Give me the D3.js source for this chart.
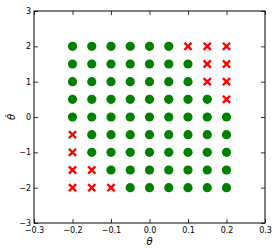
<!DOCTYPE html>
<html>
<head>
<meta charset="utf-8">
<script src="https://cdn.jsdelivr.net/npm/d3@7"></script>
<style>
  body { margin: 0; background: #fff; }
  svg { display: block; }
  text { font-family: "DejaVu Sans", sans-serif; }
</style>
</head>
<body>
<svg id="chart" width="277" height="248"></svg>
<script>
// grid of initial conditions (theta, theta dot) and whether each one was stabilised
const thetas = [-0.2, -0.15, -0.1, -0.05, 0.0, 0.05, 0.1, 0.15, 0.2];
const thetaDots = [2, 1.5, 1, 0.5, 0, -0.5, -1, -1.5, -2];
// 1 = success (green circle), 0 = failure (red cross); rows follow thetaDots
const outcome = [
  [1, 1, 1, 1, 1, 1, 0, 0, 0],
  [1, 1, 1, 1, 1, 1, 1, 0, 0],
  [1, 1, 1, 1, 1, 1, 1, 0, 0],
  [1, 1, 1, 1, 1, 1, 1, 1, 0],
  [1, 1, 1, 1, 1, 1, 1, 1, 1],
  [0, 1, 1, 1, 1, 1, 1, 1, 1],
  [0, 1, 1, 1, 1, 1, 1, 1, 1],
  [0, 0, 1, 1, 1, 1, 1, 1, 1],
  [0, 0, 0, 1, 1, 1, 1, 1, 1]
];
const xTicks = [-0.3, -0.2, -0.1, 0.0, 0.1, 0.2, 0.3];
const yTicks = [-3, -2, -1, 0, 1, 2, 3];

const svg = d3.select("#chart");
const margin = { left: 34, right: 12, top: 11, bottom: 25 };
const width = 277, height = 248;

const x = d3.scaleLinear().domain([-0.3, 0.3]).range([margin.left, width - margin.right]);
const y = d3.scaleLinear().domain([-3, 3]).range([height - margin.bottom, margin.top]);

// flatten grid into points
var points = [];
thetaDots.forEach(function(td, i) {
  thetas.forEach(function(th, j) {
    points.push({ theta: th, thetaDot: td, ok: outcome[i][j] });
  });
});

const fmtX = function(d) { return d3.format(".1f")(d).replace("-", "\u2212"); };
const fmtY = function(d) { return String(d).replace("-", "\u2212"); };

// axes with inward ticks on all four sides (matplotlib classic look)
function styleAxis(g) {
  g.select(".domain").remove();
  g.selectAll("line").attr("stroke", "#000").attr("stroke-width", 0.8);
  g.selectAll("text").attr("font-size", 8).attr("fill", "#000");
}

svg.append("g")
  .attr("transform", "translate(0," + y(-3) + ")")
  .call(d3.axisBottom(x).tickValues(xTicks).tickFormat(fmtX).tickSizeInner(-4).tickSizeOuter(0).tickPadding(4))
  .call(styleAxis);

svg.append("g")
  .attr("transform", "translate(0," + y(3) + ")")
  .call(d3.axisTop(x).tickValues(xTicks).tickFormat("").tickSizeInner(-4).tickSizeOuter(0))
  .call(styleAxis);

svg.append("g")
  .attr("transform", "translate(" + x(-0.3) + ",0)")
  .call(d3.axisLeft(y).tickValues(yTicks).tickFormat(fmtY).tickSizeInner(-4).tickSizeOuter(0).tickPadding(3))
  .call(styleAxis);

svg.append("g")
  .attr("transform", "translate(" + x(0.3) + ",0)")
  .call(d3.axisRight(y).tickValues(yTicks).tickFormat("").tickSizeInner(-4).tickSizeOuter(0))
  .call(styleAxis);

// frame
svg.append("rect")
  .attr("x", x(-0.3)).attr("y", y(3))
  .attr("width", x(0.3) - x(-0.3)).attr("height", y(-3) - y(3))
  .attr("fill", "none").attr("stroke", "#000").attr("stroke-width", 1);

// success markers
svg.append("g").selectAll("circle")
  .data(points.filter(function(d) { return d.ok; }))
  .enter().append("circle")
    .attr("cx", function(d) { return x(d.theta); })
    .attr("cy", function(d) { return y(d.thetaDot); })
    .attr("r", 4.6)
    .attr("fill", "#008000");

// failure markers
var s = 3.6;
svg.append("g").selectAll("path")
  .data(points.filter(function(d) { return !d.ok; }))
  .enter().append("path")
    .attr("d", function(d) {
      var cx = x(d.theta), cy = y(d.thetaDot);
      return "M" + (cx - s) + "," + (cy - s) + "L" + (cx + s) + "," + (cy + s) +
             "M" + (cx - s) + "," + (cy + s) + "L" + (cx + s) + "," + (cy - s);
    })
    .attr("stroke", "#ff0000")
    .attr("stroke-width", 2.4)
    .attr("fill", "none");

// axis labels
svg.append("text")
  .attr("x", x(0)).attr("y", 245)
  .attr("text-anchor", "middle")
  .attr("font-size", 10).attr("font-style", "italic")
  .text("\u03B8");

svg.append("text")
  .attr("transform", "translate(15," + y(0) + ") rotate(-90)")
  .attr("text-anchor", "middle")
  .attr("font-size", 10).attr("font-style", "italic")
  .text("\u03B8\u0307");
</script>
</body>
</html>
